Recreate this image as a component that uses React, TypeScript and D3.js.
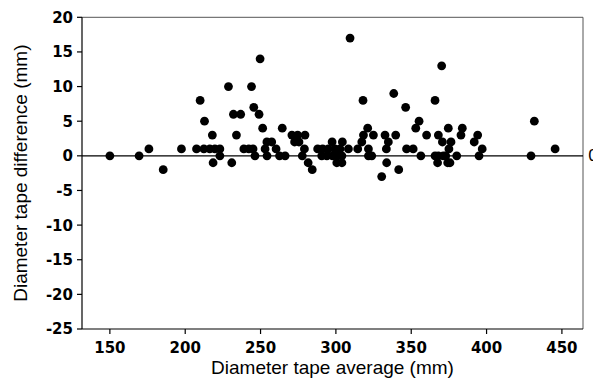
import * as d3 from "d3"

// Bland-Altman style scatter: tape average vs tape difference
const tapeAverage = [
  150, 169.4, 175.9, 185.4, 197.5, 207.5, 209.9, 212.8, 218, 212.4,
  216.3, 219.7, 223, 218.5, 223, 228.7, 230.9, 232, 236.8, 234,
  238.9, 242.2, 244, 245.5, 245, 246.3, 249.7, 249, 251.4, 254.2,
  257.4, 253, 260.3, 254.3, 264.4, 262.6, 266.3, 270.8, 274.6, 279.5,
  272.6, 275.5, 279.1, 277.7, 281.6, 284.3, 287.9, 291.2, 295, 290.6,
  294, 297.5, 304.3, 299.4, 302.7, 308.3, 297.8, 300.6, 304, 300.6,
  304, 309.4, 314.5, 317.2, 318.3, 318, 321.1, 321.6, 321.6, 323.8,
  324.9, 330.4, 332.6, 334.8, 333.5, 333.7, 338.4, 339.7, 341.7, 346.3,
  346.9, 351.3, 353, 355.2, 356.4, 360.2, 365.8, 368, 365.8, 368,
  371.3, 372.9, 367.5, 374.2, 375.7, 370.2, 374.6, 370.7, 376.4, 375,
  380.2, 383.9, 383, 394.1, 391.8, 397.1, 395, 429.5, 431.7, 445.5,
]
const tapeDifference = [
  0, 0, 1, -2, 1, 1, 8, 5, 3, 1,
  1, 1, 1, -1, 0, 10, -1, 6, 6, 3,
  1, 1, 10, 7, 1, 0, 14, 6, 4, 2,
  2, 1, 1, 0, 4, 0, 0, 3, 3, 3,
  2, 2, 1, 0, -1, -2, 1, 1, 1, 0,
  0, 2, 2, 1, 1, 1, 0, 0, 0, -1,
  -1, 17, 1, 2, 3, 8, 4, 1, 0, 0,
  3, -3, 3, 2, 1, -1, 9, 3, -2, 7,
  1, 1, 4, 5, 0, 3, 8, 3, 0, 0,
  0, 0, -1, -1, -1, 13, 4, 2, 2, 1,
  0, 4, 3, 3, 2, 1, 0, 0, 5, 1,
]
const xTicks = [150, 200, 250, 300, 350, 400, 450]
const yTicks = [20, 15, 10, 5, 0, -5, -10, -15, -20, -25]

const W = 593
const H = 379
const left = 82
const right = 583
const top = 17.3
const bottom = 329

export default function App() {
  const x = d3.scaleLinear().domain([131.5, 464]).range([left, right])
  const y = d3.scaleLinear().domain([-25, 20]).range([bottom, top])
  const points = tapeAverage.map((v, i) => ({ a: v, d: tapeDifference[i] }))

  const tickFont = "'DejaVu Sans', Verdana, sans-serif"
  const titleFont = "'Liberation Sans', Arial, sans-serif"

  return (
    <div style={{ position: "fixed", left: 0, top: 0 }}>
      <svg width={W} height={H} style={{ display: "block", background: "#fff" }}>
        {/* plot frame: top and right in gray */}
        <line x1={left} x2={right} y1={top} y2={top} stroke="#555" strokeWidth={1} />
        <line x1={right} x2={right} y1={top} y2={bottom} stroke="#555" strokeWidth={1} />

        {/* zero line */}
        <line x1={left} x2={right} y1={y(0)} y2={y(0)} stroke="#000" strokeWidth={1.2} />

        {points.map((p, i) => (
          <circle key={i} cx={x(p.a)} cy={y(p.d)} r={4.4} fill="#000" />
        ))}

        {/* axes */}
        <line x1={left} x2={left} y1={top} y2={bottom} stroke="#000" strokeWidth={1.2} />
        <line x1={left} x2={right} y1={bottom} y2={bottom} stroke="#000" strokeWidth={1.2} />

        {yTicks.map((t) => (
          <g key={t}>
            <line x1={left - 5} x2={left} y1={y(t)} y2={y(t)} stroke="#000" strokeWidth={1.2} />
            <text
              x={left - 9}
              y={y(t)}
              dy="0.36em"
              textAnchor="end"
              fontFamily={tickFont}
              fontWeight="bold"
              fontSize={15}
              fill="#000"
            >
              {t}
            </text>
          </g>
        ))}

        {xTicks.map((t) => (
          <g key={t}>
            <line x1={x(t)} x2={x(t)} y1={bottom} y2={bottom + 5} stroke="#000" strokeWidth={1.2} />
            <text
              x={x(t)}
              y={352.7}
              textAnchor="middle"
              fontFamily={tickFont}
              fontWeight="bold"
              fontSize={15}
              fill="#000"
            >
              {t}
            </text>
          </g>
        ))}

        {/* secondary label cut off at the right edge */}
        <text x={588} y={y(0)} dy="0.36em" fontFamily={tickFont} fontSize={15} fill="#000">
          0
        </text>

        <text
          x={(left + right) / 2}
          y={374}
          textAnchor="middle"
          fontFamily={titleFont}
          fontSize={19}
          fill="#000"
        >
          Diameter tape average (mm)
        </text>
        <text
          transform={`translate(26.7,${(top + bottom) / 2}) rotate(-90)`}
          textAnchor="middle"
          fontFamily={titleFont}
          fontSize={19}
          fill="#000"
        >
          Diameter tape difference (mm)
        </text>
      </svg>
    </div>
  )
}
